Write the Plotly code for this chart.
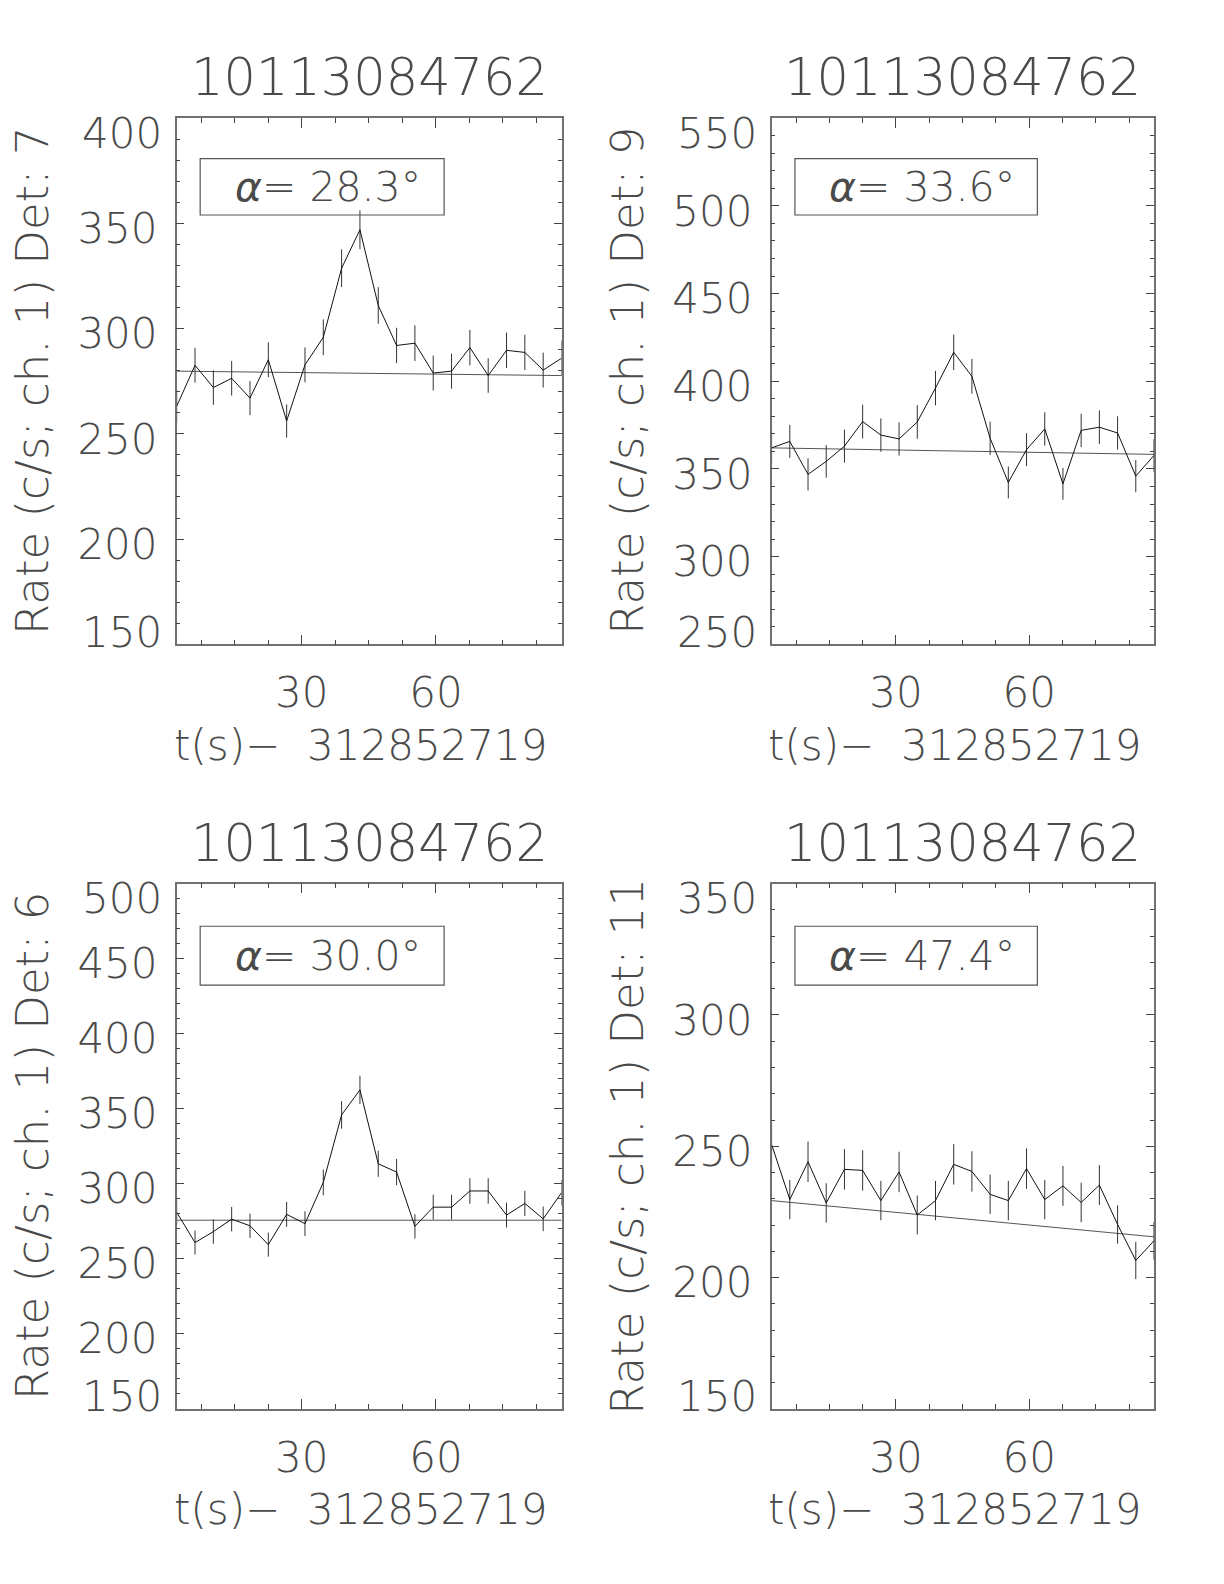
import plotly.graph_objects as go

# ---------------- data ----------------
time_s = [2.0, 6.1, 10.2, 14.3, 18.4, 22.5, 26.6, 30.7, 34.8, 38.9, 43.0,
          47.1, 51.2, 55.3, 59.4, 63.5, 67.6, 71.7, 75.8, 79.9, 84.0, 88.1]

rate_det7 = [263.1, 282.6, 272.0, 276.4, 267.0, 285.2, 256.1, 282.8, 295.9, 328.7, 347.0,
             311.0, 292.0, 293.1, 278.9, 279.8, 291.0, 277.7, 289.7, 288.7, 280.3, 285.9]
err_det7 = [8.0, 8.3, 8.2, 8.2, 8.1, 8.3, 7.9, 8.3, 8.5, 9.0, 9.2,
            8.7, 8.4, 8.5, 8.3, 8.3, 8.4, 8.2, 8.4, 8.4, 8.3, 8.4]
bg_det7 = [279.8, 277.7]

rate_det9 = [362.0, 365.7, 346.9, 354.3, 363.0, 377.0, 369.3, 367.1, 376.8, 396.1, 416.5,
             402.8, 367.5, 342.3, 361.0, 372.8, 341.5, 372.0, 373.8, 370.5, 345.9, 357.7]
err_det9 = [9.4, 9.4, 9.2, 9.3, 9.4, 9.6, 9.5, 9.5, 9.6, 9.8, 10.1,
            9.9, 9.5, 9.1, 9.4, 9.5, 9.1, 9.5, 9.6, 9.5, 9.2, 9.3]
bg_det9 = [362.0, 358.3]

rate_det6 = [281.0, 260.8, 268.1, 276.4, 272.0, 259.4, 279.6, 273.4, 300.9, 345.9, 362.6,
             313.3, 307.8, 271.6, 284.4, 284.4, 295.2, 295.2, 279.1, 286.9, 276.6, 294.0]
err_det6 = [8.3, 8.0, 8.1, 8.2, 8.1, 8.0, 8.3, 8.2, 8.6, 9.2, 9.4,
            8.7, 8.7, 8.1, 8.3, 8.3, 8.5, 8.5, 8.3, 8.4, 8.2, 8.5]
bg_det6 = [275.7, 275.7]

rate_det11 = [250.7, 229.7, 244.1, 228.4, 241.2, 240.8, 229.3, 240.2, 223.8, 229.3, 243.1,
              240.4, 231.7, 229.3, 241.5, 229.7, 234.9, 228.6, 235.2, 220.2, 206.5, 214.0]
err_det11 = [7.8, 7.5, 7.7, 7.5, 7.7, 7.7, 7.5, 7.7, 7.4, 7.5, 7.7,
             7.7, 7.5, 7.5, 7.7, 7.5, 7.6, 7.5, 7.6, 7.3, 7.1, 7.2]
bg_det11 = [229.3, 215.5]

titles = ["10113084762", "10113084762", "10113084762", "10113084762"]
det_labels = ["7", "9", "6", "11"]
alpha_labels = ["28.3", "33.6", "30.0", "47.4"]
y_ranges = [[150, 400], [250, 550], [150, 500], [150, 350]]
t_offset = "312852719"

rates = [rate_det7, rate_det9, rate_det6, rate_det11]
errs = [err_det7, err_det9, err_det6, err_det11]
bgs = [bg_det7, bg_det9, bg_det6, bg_det11]

# ---------------- layout geometry ----------------
W, H = 1224, 1584
col_x = [(176.7, 561.5), (771.6, 1154.0)]
row_y = [(118.2, 644.3), (883.7, 1408.8)]
FONT = "DejaVu Sans"
TXT = "#4a4a4a"
NB = "\u00a0"

fig = go.Figure()
annotations = []
shapes = []

for k in range(4):
    r, c = divmod(k, 2)
    ax = "" if k == 0 else str(k + 1)
    xa, ya = "x" + ax, "y" + ax
    x0p, x1p = col_x[c]
    y0p, y1p = row_y[r]
    xdom = [x0p / W, x1p / W]
    ydom = [1 - y1p / H, 1 - y0p / H]
    ylo, yhi = y_ranges[k]

    # fitted background
    fig.add_trace(go.Scatter(x=[time_s[0], time_s[-1]], y=bgs[k], mode="lines",
                             line=dict(color="#555555", width=1),
                             xaxis=xa, yaxis=ya, showlegend=False, hoverinfo="skip"))
    # light curve with error bars
    fig.add_trace(go.Scatter(x=time_s, y=rates[k], mode="lines",
                             line=dict(color="#111111", width=1),
                             error_y=dict(type="data", array=errs[k], visible=True,
                                          color="#333333", thickness=1, width=0),
                             xaxis=xa, yaxis=ya, showlegend=False))

    axis_common = dict(showgrid=False, zeroline=False, showline=True, linecolor="#707070",
                       linewidth=1.5, mirror="ticks", ticks="inside", tickcolor="#444444",
                       tickfont=dict(family=FONT, size=42, color=TXT, weight=200))
    fig.update_layout(**{
        ("xaxis" + ax): dict(domain=xdom, range=[time_s[0], time_s[-1]],
                             anchor=ya, tickmode="array", tickvals=[30, 60],
                             ticktext=["30", "60"], ticklen=10, tickwidth=1,
                             ticklabelstandoff=11,
                             minor=dict(tick0=0, dtick=7.5, ticklen=5, ticks="inside",
                                        tickcolor="#444444", tickwidth=1),
                             **axis_common),
        ("yaxis" + ax): dict(domain=ydom, range=[ylo, yhi], anchor=xa,
                             tickmode="array",
                             tickvals=list(range(ylo + 50, yhi, 50)),
                             ticklen=8, tickwidth=1, ticklabelstandoff=9,
                             ticklabelshift=5,
                             minor=dict(tick0=0, dtick=10, ticklen=4, ticks="inside",
                                        tickcolor="#444444", tickwidth=1),
                             **axis_common),
    })

    # end labels of y axis (nudged inside the frame)
    annotations.append(dict(x=0, xref="x" + ax + " domain", y=yhi, yref=ya, yshift=-15,
                            xshift=-13, xanchor="right", yanchor="middle", showarrow=False,
                            text=str(yhi), font=dict(family=FONT, size=42, color=TXT, weight=200)))
    annotations.append(dict(x=0, xref="x" + ax + " domain", y=ylo, yref=ya, yshift=12,
                            xshift=-13, xanchor="right", yanchor="middle", showarrow=False,
                            text=str(ylo), font=dict(family=FONT, size=42, color=TXT, weight=200)))

    xc = (x0p + x1p) / 2 / W
    # panel title
    annotations.append(dict(x=xc, y=1 - (y0p - 40.5) / H, xref="paper", yref="paper",
                            text=titles[k], showarrow=False, xanchor="center", yanchor="middle",
                            font=dict(family=FONT, size=51, color=TXT, weight=200)))
    # x title
    annotations.append(dict(x=xc - 8 / W, y=1 - (y1p + 101) / H, xref="paper", yref="paper",
                            text="t(s)\u2212 " + NB + t_offset, showarrow=False,
                            xanchor="center", yanchor="middle",
                            font=dict(family=FONT, size=42, color=TXT, weight=200)))
    # y title
    annotations.append(dict(x=(x0p - 144) / W, y=1 - (y0p + y1p) / 2 / H,
                            xref="paper", yref="paper", textangle=-90,
                            text="Rate (c/s; ch. 1) Det: " + det_labels[k], showarrow=False,
                            xanchor="center", yanchor="middle",
                            font=dict(family=FONT, size=45, color=TXT, weight=200)))
    # alpha box
    by0, by1 = (0.816, 0.923) if r == 0 else (0.807, 0.919)
    bx0, bx1 = (0.061, 0.695)
    shapes.append(dict(type="rect", xref="x" + ax + " domain", yref="y" + ax + " domain",
                       x0=bx0, x1=bx1, y0=by0, y1=by1,
                       line=dict(color="#555555", width=1.2), fillcolor="rgba(0,0,0,0)"))
    annotations.append(dict(x=(bx0 + bx1) / 2 + 0.015, y=(by0 + by1) / 2,
                            xref="x" + ax + " domain", yref="y" + ax + " domain",
                            text="<i>\u03b1</i>= " + alpha_labels[k] + "\u00b0",
                            showarrow=False, xanchor="center", yanchor="middle",
                            font=dict(family=FONT, size=41, color=TXT, weight=200)))

fig.update_layout(width=W, height=H, margin=dict(l=0, r=0, t=0, b=0),
                  paper_bgcolor="white", plot_bgcolor="white",
                  annotations=annotations, shapes=shapes, showlegend=False)

fig.write_html("out.html", config={"displayModeBar": False},
               post_script="document.body.style.margin='0px';")
